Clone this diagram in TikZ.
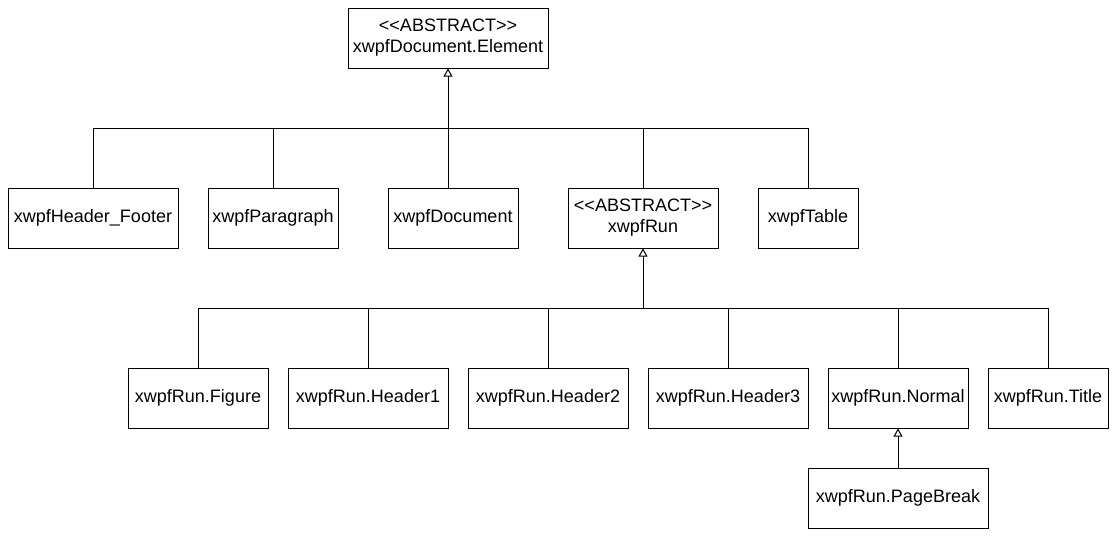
\documentclass[tikz,border=0pt]{standalone}
\usepackage{fontspec}
\setmainfont{Liberation Sans}[Ligatures=TeXOff]
\usetikzlibrary{arrows.meta}
\begin{document}
\begin{tikzpicture}[x=1pt,y=-1pt,
  box/.style={draw, line width=1pt, inner sep=0pt, minimum height=60pt,
    font=\fontsize{18}{21}\selectfont, align=center},
  conn/.style={line width=1pt},
  inh/.style={line width=1pt, -{Triangle[open, width=9pt, length=8pt]}}]
\useasboundingbox (0,0) rectangle (1116,536);
% level 0
\node[box, minimum width=200pt] (elem) at (448,38) {<{}<ABSTRACT>{}>\\xwpfDocument.Element};
% level 1
\node[box, minimum width=170pt] (hf) at (93,218) {xwpfHeader\_Footer};
\node[box, minimum width=130pt] (para) at (273,218) {xwpfParagraph};
\node[box, minimum width=130pt] (doc) at (453,218) {xwpfDocument};
\node[box, minimum width=150pt] (run) at (643,218) {<{}<ABSTRACT>{}>\\xwpfRun};
\node[box, minimum width=100pt] (tab) at (808,218) {xwpfTable};
% level 2
\node[box, minimum width=140pt] (fig) at (198,398) {xwpfRun.Figure};
\node[box, minimum width=160pt] (h1) at (368,398) {xwpfRun.Header1};
\node[box, minimum width=160pt] (h2) at (548,398) {xwpfRun.Header2};
\node[box, minimum width=160pt] (h3) at (728,398) {xwpfRun.Header3};
\node[box, minimum width=140pt] (norm) at (898,398) {xwpfRun.Normal};
\node[box, minimum width=120pt] (title) at (1048,398) {xwpfRun.Title};
% level 3
\node[box, minimum width=180pt] (pb) at (898,498) {xwpfRun.PageBreak};
% junctions
\coordinate (j1) at (448,128);
\coordinate (j2) at (643,308);
% connectors to element
\draw[inh] (j1) -- (elem.south);
\draw[conn] (hf.north) |- (j1);
\draw[conn] (tab.north) |- (j1);
\draw[conn] (para.north) -- (para.north |- j1);
\draw[conn] (doc.north -| j1) -- (j1);
\draw[conn] (run.north) -- (run.north |- j1);
% connectors to run
\draw[inh] (j2) -- (run.south);
\draw[conn] (fig.north) |- (j2);
\draw[conn] (title.north) |- (j2);
\draw[conn] (h1.north) -- (h1.north |- j2);
\draw[conn] (h2.north) -- (h2.north |- j2);
\draw[conn] (h3.north) -- (h3.north |- j2);
\draw[conn] (norm.north) -- (norm.north |- j2);
% pagebreak to normal
\draw[inh] (pb.north) -- (norm.south);
\end{tikzpicture}
\end{document}
